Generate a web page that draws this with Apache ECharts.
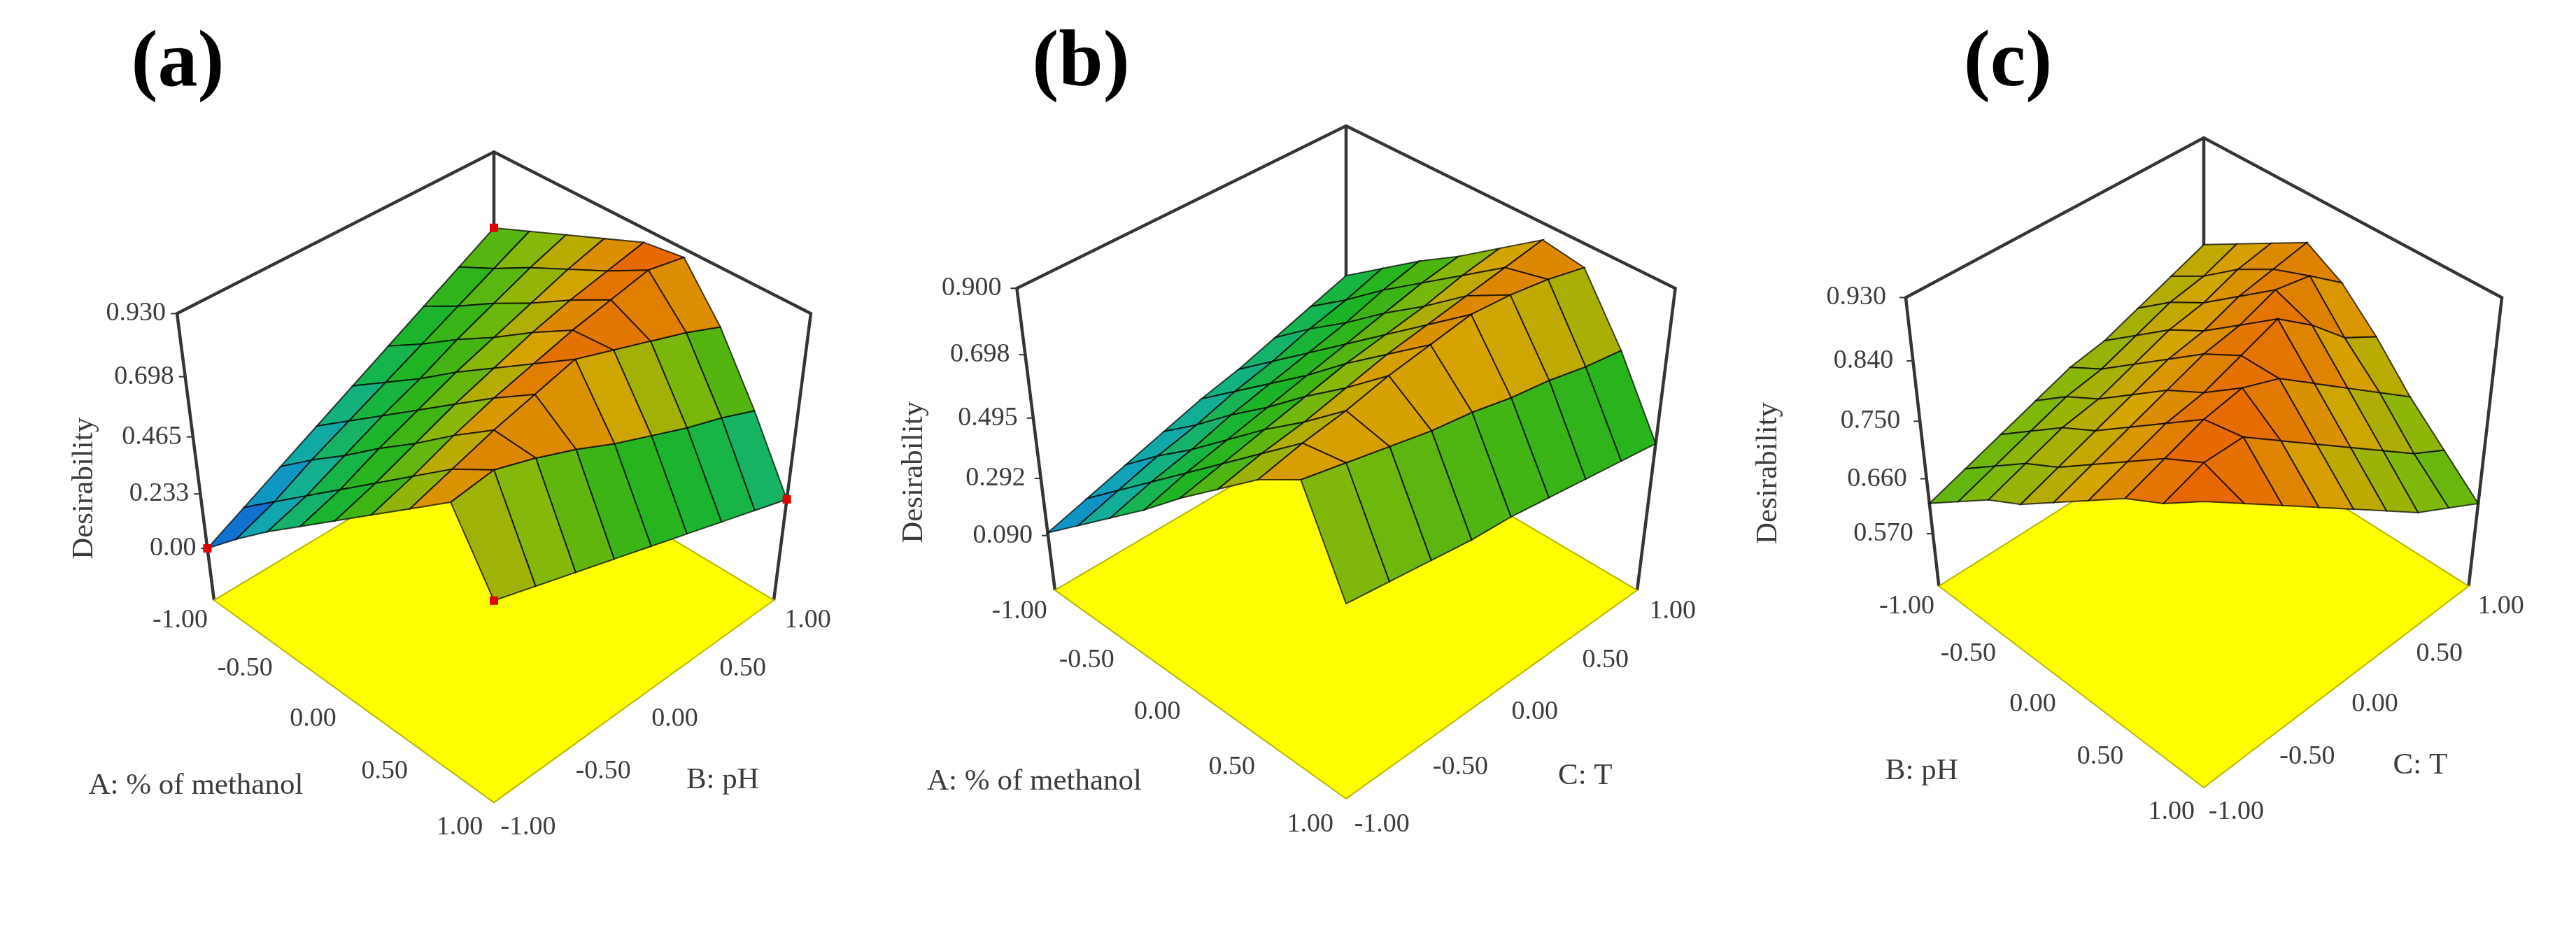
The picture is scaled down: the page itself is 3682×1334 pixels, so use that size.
<!DOCTYPE html>
<html>
<head>
<meta charset="utf-8">
<script src="https://cdn.jsdelivr.net/npm/echarts@6/dist/echarts.min.js"></script>
<style>
  html, body { margin: 0; background: #fff; }
  #chart { width: 3682px; height: 1334px; }
</style>
</head>
<body>
<div id="chart"></div>
<script>
// coded factor levels of the response grids (rows = 2nd factor, cols = 1st factor)
const levels = [-1, -0.75, -0.5, -0.25, 0, 0.25, 0.5, 0.75, 1];
const floorTicks = [-1, -0.5, 0, 0.5, 1];
const floorTickLabels = ['-1.00', '-0.50', '0.00', '0.50', '1.00'];

// (a) rows: B: pH, cols: A: % of methanol
const desirA = [
  [0.00, 0.14, 0.27, 0.39, 0.51, 0.63, 0.75, 0.87, 0.61],
  [0.08, 0.20, 0.32, 0.44, 0.56, 0.68, 0.80, 0.89, 0.56],
  [0.16, 0.28, 0.39, 0.51, 0.62, 0.74, 0.85, 0.84, 0.51],
  [0.24, 0.35, 0.46, 0.57, 0.68, 0.79, 0.89, 0.78, 0.46],
  [0.32, 0.42, 0.52, 0.63, 0.73, 0.83, 0.93, 0.71, 0.41],
  [0.40, 0.49, 0.59, 0.68, 0.78, 0.87, 0.88, 0.65, 0.36],
  [0.48, 0.56, 0.65, 0.73, 0.82, 0.90, 0.83, 0.59, 0.31],
  [0.56, 0.63, 0.71, 0.78, 0.85, 0.93, 0.78, 0.54, 0.26],
  [0.64, 0.70, 0.76, 0.82, 0.88, 0.90, 0.72, 0.48, 0.21]
];
const zTicksA = [0.00, 0.233, 0.465, 0.698, 0.930];
const zLabelsA = ['0.00', '0.233', '0.465', '0.698', '0.930'];

// (b) rows: C: T, cols: A: % of methanol
const desirB = [
  [0.10, 0.21, 0.32, 0.43, 0.55, 0.66, 0.77, 0.85, 0.56],
  [0.14, 0.25, 0.36, 0.47, 0.58, 0.69, 0.80, 0.82, 0.54],
  [0.18, 0.29, 0.39, 0.50, 0.61, 0.71, 0.82, 0.79, 0.52],
  [0.22, 0.32, 0.43, 0.53, 0.64, 0.74, 0.85, 0.76, 0.50],
  [0.26, 0.36, 0.46, 0.56, 0.67, 0.77, 0.87, 0.74, 0.49],
  [0.29, 0.39, 0.49, 0.59, 0.69, 0.79, 0.89, 0.71, 0.47],
  [0.33, 0.43, 0.52, 0.62, 0.71, 0.81, 0.88, 0.69, 0.45],
  [0.37, 0.46, 0.56, 0.65, 0.74, 0.83, 0.86, 0.66, 0.43],
  [0.41, 0.50, 0.59, 0.67, 0.76, 0.85, 0.83, 0.64, 0.41]
];
const zTicksB = [0.090, 0.292, 0.495, 0.698, 0.900];
const zLabelsB = ['0.090', '0.292', '0.495', '0.698', '0.900'];

// (c) rows: C: T, cols: B: pH
const desirC = [
  [0.62, 0.66, 0.70, 0.73, 0.77, 0.81, 0.85, 0.88, 0.92],
  [0.64, 0.68, 0.72, 0.75, 0.79, 0.83, 0.87, 0.90, 0.88],
  [0.66, 0.70, 0.74, 0.77, 0.81, 0.85, 0.89, 0.90, 0.84],
  [0.68, 0.72, 0.75, 0.79, 0.83, 0.86, 0.90, 0.86, 0.80],
  [0.70, 0.73, 0.77, 0.81, 0.85, 0.88, 0.88, 0.82, 0.76],
  [0.71, 0.75, 0.79, 0.82, 0.86, 0.90, 0.84, 0.78, 0.72],
  [0.73, 0.77, 0.80, 0.84, 0.88, 0.86, 0.80, 0.74, 0.68],
  [0.75, 0.78, 0.82, 0.85, 0.87, 0.81, 0.76, 0.70, 0.65],
  [0.77, 0.80, 0.83, 0.86, 0.83, 0.78, 0.72, 0.67, 0.62]
];
const zTicksC = [0.570, 0.660, 0.750, 0.840, 0.930];
const zLabelsC = ['0.570', '0.660', '0.750', '0.840', '0.930'];

// colour ramp for desirability 0 .. 1
const palette = ['#1434c8', '#1070d0', '#10a0c0', '#12b090', '#16b450', '#1cb424',
                 '#40b414', '#84b80a', '#d4a400', '#e86400', '#e83800'];

const SERIF = '"Liberation Serif", "Times New Roman", serif';

// view set-up of each panel (camera, box, label placement)
const panels = [
  { tag: '(a)', grid: desirA, zTicks: zTicksA, zLabels: zLabelsA,
    xTitle: 'A: % of methanol', yTitle: 'B: pH', dots: true,
    geo: { cx: 706, cy: 666, s: 300.4, phi: 37.8, m: 0.86, pu: 0.0687, pz: 0.0722,
           zFloor: -0.2325, zTop: 0.93, tagX: 254, descOff: -165, zLabOff: -16 } },
  { tag: '(b)', grid: desirB, zTicks: zTicksB, zLabels: zLabelsB,
    xTitle: 'A: % of methanol', yTitle: 'C: T', dots: false,
    geo: { cx: 1924, cy: 641.3, s: 312.3, phi: 36.9, m: 0.861, pu: 0.0725, pz: 0.0714,
           zFloor: -0.1125, zTop: 0.90, tagX: 1545, descOff: -180, zLabOff: -22 } },
  { tag: '(c)', grid: desirC, zTicks: zTicksC, zLabels: zLabelsC,
    xTitle: 'B: pH', yTitle: 'C: T', dots: false,
    geo: { cx: 3150, cy: 643.9, s: 283.5, phi: 40.1, m: 0.948, pu: 0.0685, pz: 0.0622,
           zFloor: 0.48, zTop: 0.93, tagX: 2870, descOff: -225, zLabOff: -28 } }
];

// 3D (factor1, factor2, value) -> page pixel, with a little perspective
function projector(g) {
  const c = Math.cos(g.phi * Math.PI / 180), sn = Math.sin(g.phi * Math.PI / 180);
  return function (f1, f2, val) {
    const zc = ((val - g.zFloor) / (g.zTop - g.zFloor) * 2 - 1) * g.m;
    const u = (f1 - f2) / Math.SQRT2, v = (f1 + f2) / Math.SQRT2;
    const w = 1 - g.pu * u - g.pz * zc;
    return { x: g.cx + g.s * v / w, y: g.cy - g.s * (zc * c - u * sn) / w, depth: u * c + zc * sn };
  };
}

function txt(pos, text, size, align, extra) {
  return Object.assign({
    type: 'text', x: pos[0], y: pos[1],
    style: { text: text, font: size + 'px ' + SERIF, fill: '#3c3c3c', align: align, verticalAlign: 'middle' }
  }, extra || {});
}

function frameSeries(p) {
  const g = p.geo, P = projector(g);
  return {
    type: 'custom', coordinateSystem: 'cartesian2d', z: 1, silent: true, clip: false,
    data: [[0, 0]],
    renderItem: function (params, api) {
      const pt = (f1, f2, v) => { const q = P(f1, f2, v); return api.coord([q.x, q.y]); };
      const lo = g.zFloor, hi = g.zTop;
      const apex = pt(-1, 1, hi), backF = pt(-1, 1, lo);
      const lt = pt(-1, -1, hi), lf = pt(-1, -1, lo);
      const rt = pt(1, 1, hi), rf = pt(1, 1, lo), ff = pt(1, -1, lo);
      const edge = '#353535';
      const kids = [
        { type: 'polyline', shape: { points: [lf, lt, apex, rt, rf] }, style: { stroke: edge, lineWidth: 4.5, fill: null } },
        { type: 'line', shape: { x1: apex[0], y1: apex[1], x2: backF[0], y2: backF[1] }, style: { stroke: edge, lineWidth: 4.5 } },
        { type: 'polygon', shape: { points: [lf, ff, rf, backF] }, style: { fill: '#ffff00', stroke: '#b8b800', lineWidth: 2 } }
      ];
      p.zTicks.forEach((t, k) => {
        const e = pt(-1, -1, t);
        kids.push({ type: 'line', shape: { x1: e[0] - 9, y1: e[1], x2: e[0], y2: e[1] }, style: { stroke: edge, lineWidth: 2 } });
        kids.push(txt([e[0] + g.zLabOff, e[1]], p.zLabels[k], 38, 'right'));
      });
      floorTicks.forEach((t, k) => {
        kids.push(txt(pt(t, -1.22, lo), floorTickLabels[k], 38, 'center'));
        kids.push(txt(pt(1.22, t, lo), floorTickLabels[k], 38, 'center'));
      });
      kids.push(txt(pt(-0.05, -1.9, lo), p.xTitle, 43, 'center'));
      kids.push(txt(pt(1.65, -0.15, lo), p.yTitle, 43, 'center'));
      const d = pt(-1, -1, lo + 0.42 * (hi - lo));
      kids.push(txt([d[0] + g.descOff, d[1]], 'Desirability', 43, 'center', { rotation: Math.PI / 2 }));
      const tp = api.coord([g.tagX, 93]);
      kids.push({ type: 'text', x: tp[0], y: tp[1],
        style: { text: p.tag, font: 'bold 114px ' + SERIF, fill: '#000', align: 'center', verticalAlign: 'middle' } });
      return { type: 'group', children: kids };
    }
  };
}

function surfaceSeries(p) {
  const g = p.geo, P = projector(g), grid = p.grid;
  const quads = [];
  for (let i = 0; i < levels.length - 1; i++) {
    for (let j = 0; j < levels.length - 1; j++) {
      const avg = (grid[i][j] + grid[i][j + 1] + grid[i + 1][j] + grid[i + 1][j + 1]) / 4;
      const dep = P((levels[j] + levels[j + 1]) / 2, (levels[i] + levels[i + 1]) / 2, avg).depth;
      quads.push([avg, i, j, dep]);
    }
  }
  quads.sort((a, b) => a[3] - b[3]); // far ones first
  return {
    type: 'custom', coordinateSystem: 'cartesian2d', z: 2, silent: true, clip: false,
    dimensions: ['value', 'row', 'col', 'depth'],
    data: quads,
    renderItem: function (params, api) {
      const i = api.value(1), j = api.value(2);
      const pts = [[j, i], [j + 1, i], [j + 1, i + 1], [j, i + 1]].map(([cj, ci]) => {
        const q = P(levels[cj], levels[ci], grid[ci][cj]);
        return api.coord([q.x, q.y]);
      });
      return { type: 'polygon', shape: { points: pts },
        style: { fill: api.visual('color'), stroke: 'rgba(0,0,0,0.72)', lineWidth: 2 } };
    }
  };
}

function dotSeries(p) {
  const g = p.geo, P = projector(g), grid = p.grid, n = levels.length - 1;
  const corners = [[-1, -1, grid[0][0]], [1, -1, grid[0][n]], [-1, 1, grid[n][0]], [1, 1, grid[n][n]]];
  return {
    type: 'custom', coordinateSystem: 'cartesian2d', z: 3, silent: true, clip: false,
    data: corners,
    renderItem: function (params, api) {
      const q = P(api.value(0), api.value(1), api.value(2));
      const c = api.coord([q.x, q.y]);
      return { type: 'rect', shape: { x: c[0] - 6, y: c[1] - 6, width: 12, height: 12 }, style: { fill: '#e00000' } };
    }
  };
}

const series = [];
const surfIdx = [];
panels.forEach(p => {
  series.push(frameSeries(p));
  surfIdx.push(series.length);
  series.push(surfaceSeries(p));
  if (p.dots) series.push(dotSeries(p));
});

const chart = echarts.init(document.getElementById('chart'));
chart.setOption({
  animation: false,
  backgroundColor: '#fff',
  grid: { left: 0, right: 0, top: 0, bottom: 0 },
  xAxis: { type: 'value', min: 0, max: 3682, show: false },
  yAxis: { type: 'value', min: 0, max: 1334, inverse: true, show: false },
  visualMap: {
    type: 'continuous', show: false, min: 0, max: 1, dimension: 0,
    seriesIndex: surfIdx, inRange: { color: palette }
  },
  series: series
});
</script>
</body>
</html>
